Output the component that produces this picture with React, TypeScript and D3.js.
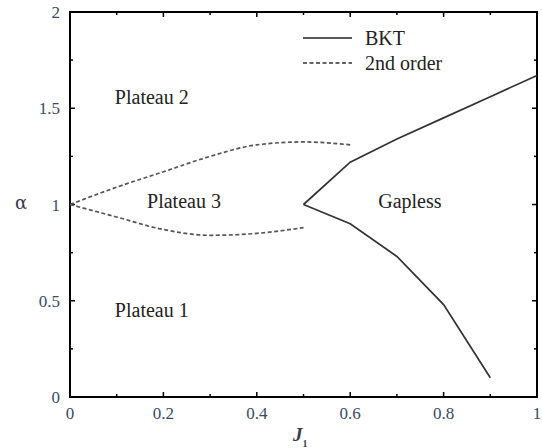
import * as d3 from 'd3'

const bktJ = [0.5, 0.6, 0.7, 0.8, 0.9, 1.0]
const bktUpper = [1.0, 1.22, 1.34, 1.45, 1.56, 1.67]
const bktLowerJ = [0.5, 0.6, 0.7, 0.8, 0.9]
const bktLower = [1.0, 0.9, 0.73, 0.48, 0.1]

const dashJ = [0, 0.1, 0.2, 0.3, 0.4, 0.5, 0.6]
const dashUpper = [1.0, 1.09, 1.17, 1.25, 1.31, 1.325, 1.31]
const dashLowerJ = [0, 0.1, 0.2, 0.3, 0.4, 0.5]
const dashLower = [1.0, 0.935, 0.87, 0.84, 0.85, 0.88]

const xTicks = [0, 0.2, 0.4, 0.6, 0.8, 1]
const xMinor = [0.1, 0.3, 0.5, 0.7, 0.9]
const yTicks = [0, 0.5, 1, 1.5, 2]
const yMinor = [0.25, 0.75, 1.25, 1.75]

const regions = [
  { label: 'Plateau 2', j: 0.096, a: 1.52 },
  { label: 'Plateau 3', j: 0.165, a: 0.98 },
  { label: 'Gapless', j: 0.66, a: 0.98 },
  { label: 'Plateau 1', j: 0.096, a: 0.415 },
]

const FONT = 'Liberation Serif'
type P = [number, number]

if (typeof document !== 'undefined') document.body.style.margin = '0'

export default function App() {
  const x = d3.scaleLinear().domain([0, 1]).range([70, 537])
  const y = d3.scaleLinear().domain([0, 2]).range([397, 12])
  const line = d3.line<P>().x(d => x(d[0])).y(d => y(d[1]))
  const curve = d3.line<P>().x(d => x(d[0])).y(d => y(d[1])).curve(d3.curveMonotoneX)

  const bkt = bktJ.map((j, i) => [j, bktUpper[i]] as P)
  const bktL = bktLowerJ.map((j, i) => [j, bktLower[i]] as P)
  const dU = dashJ.map((j, i) => [j, dashUpper[i]] as P)
  const dL = dashLowerJ.map((j, i) => [j, dashLower[i]] as P)

  const tickLines: any[] = []
  const addX = (vals: number[], len: number) => vals.forEach(v => {
    tickLines.push(<line key={`xb${v}`} x1={x(v)} x2={x(v)} y1={y(0)} y2={y(0) - len} stroke="#000" strokeWidth={1.5} />)
    tickLines.push(<line key={`xt${v}`} x1={x(v)} x2={x(v)} y1={y(2)} y2={y(2) + len} stroke="#000" strokeWidth={1.5} />)
  })
  const addY = (vals: number[], len: number) => vals.forEach(v => {
    tickLines.push(<line key={`yl${v}`} x1={x(0)} x2={x(0) + len} y1={y(v)} y2={y(v)} stroke="#000" strokeWidth={1.5} />)
    tickLines.push(<line key={`yr${v}`} x1={x(1)} x2={x(1) - len} y1={y(v)} y2={y(v)} stroke="#000" strokeWidth={1.5} />)
  })
  addX(xTicks.slice(1, -1), 5)
  addX(xMinor, 3)
  addY(yTicks.slice(1, -1), 5)
  addY(yMinor, 3)

  return (
    <svg width={542} height={448}>
      <rect x={x(0)} y={y(2)} width={x(1) - x(0)} height={y(0) - y(2)}
        fill="none" stroke="#000" strokeWidth={2} />
      {tickLines}

      {xTicks.map(d => (
        <text key={`xl${d}`} x={x(d)} y={y(0) + 22} textAnchor="middle" fontSize={17}
          fontFamily={FONT} fill="#3a4a66">{String(d)}</text>
      ))}
      {yTicks.map(d => (
        <text key={`yl${d}`} x={x(0) - 10} y={y(d) + 6} textAnchor="end" fontSize={17}
          fontFamily={FONT} fill="#3a4a66">{String(d)}</text>
      ))}

      <text x={21} y={y(1) + 4} textAnchor="middle" fontSize={18} fontFamily="DejaVu Serif" fill="#3a3a50">α</text>
      <text x={293} y={441} fontSize={19} fontFamily={FONT} fontStyle="italic"
        fontWeight="bold" fill="#3a3a50">
        J<tspan dy={6} fontSize={10} fontStyle="normal">1</tspan>
      </text>

      {[bkt, bktL].map((pts, i) => (
        <path key={`b${i}`} d={line(pts) ?? ''} fill="none" stroke="#333" strokeWidth={1.7} />
      ))}
      {[dU, dL].map((pts, i) => (
        <path key={`d${i}`} d={curve(pts) ?? ''} fill="none" stroke="#555" strokeWidth={1.7}
          strokeDasharray="4,2.5" />
      ))}

      {regions.map(r => (
        <text key={r.label} x={x(r.j)} y={y(r.a)} fontSize={20} fontFamily={FONT} fill="#222">{r.label}</text>
      ))}

      <line x1={303} x2={352} y1={38} y2={38} stroke="#222" strokeWidth={1.7} />
      <line x1={303} x2={352} y1={63} y2={63} stroke="#333" strokeWidth={1.7} strokeDasharray="4,2.5" />
      <text x={365} y={45} fontSize={20} fontFamily={FONT} fill="#222">BKT</text>
      <text x={365} y={70} fontSize={20} fontFamily={FONT} fill="#222">2nd order</text>
    </svg>
  )
}
